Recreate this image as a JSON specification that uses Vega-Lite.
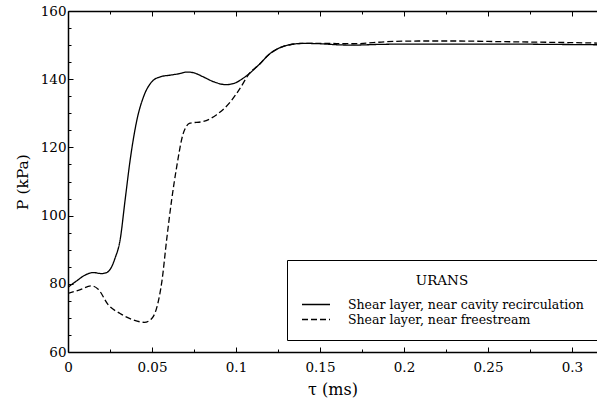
{
  "$schema": "https://vega.github.io/schema/vega-lite/v6.json",
  "autosize": "none",
  "width": 529,
  "height": 341,
  "padding": {"left": 68, "top": 11, "right": 0, "bottom": 53},
  "background": "white",
  "config": {
    "view": {"stroke": null},
    "font": "DejaVu Serif",
    "axis": {"labelFont": "DejaVu Serif", "titleFont": "DejaVu Serif", "labelColor": "black", "titleColor": "black", "domainColor": "black", "tickColor": "black", "grid": false, "titleFontWeight": "normal", "domainWidth": 1.5, "tickWidth": 1},
    "legend": {"labelFont": "DejaVu Serif", "titleFont": "DejaVu Serif"}
  },
  "data": {"values": [
    {"series": "Shear layer, near cavity recirculation", "t": 0.000, "p": 79.0},
    {"series": "Shear layer, near cavity recirculation", "t": 0.005, "p": 80.8},
    {"series": "Shear layer, near cavity recirculation", "t": 0.010, "p": 82.5},
    {"series": "Shear layer, near cavity recirculation", "t": 0.015, "p": 83.3},
    {"series": "Shear layer, near cavity recirculation", "t": 0.020, "p": 83.0},
    {"series": "Shear layer, near cavity recirculation", "t": 0.023, "p": 83.3},
    {"series": "Shear layer, near cavity recirculation", "t": 0.026, "p": 85.0},
    {"series": "Shear layer, near cavity recirculation", "t": 0.028, "p": 87.5},
    {"series": "Shear layer, near cavity recirculation", "t": 0.031, "p": 92.8},
    {"series": "Shear layer, near cavity recirculation", "t": 0.034, "p": 104.6},
    {"series": "Shear layer, near cavity recirculation", "t": 0.037, "p": 116.3},
    {"series": "Shear layer, near cavity recirculation", "t": 0.041, "p": 128.0},
    {"series": "Shear layer, near cavity recirculation", "t": 0.045, "p": 134.9},
    {"series": "Shear layer, near cavity recirculation", "t": 0.050, "p": 139.3},
    {"series": "Shear layer, near cavity recirculation", "t": 0.055, "p": 140.7},
    {"series": "Shear layer, near cavity recirculation", "t": 0.061, "p": 141.2},
    {"series": "Shear layer, near cavity recirculation", "t": 0.066, "p": 141.6},
    {"series": "Shear layer, near cavity recirculation", "t": 0.071, "p": 142.1},
    {"series": "Shear layer, near cavity recirculation", "t": 0.076, "p": 141.7},
    {"series": "Shear layer, near cavity recirculation", "t": 0.080, "p": 140.8},
    {"series": "Shear layer, near cavity recirculation", "t": 0.087, "p": 139.2},
    {"series": "Shear layer, near cavity recirculation", "t": 0.094, "p": 138.4},
    {"series": "Shear layer, near cavity recirculation", "t": 0.099, "p": 138.8},
    {"series": "Shear layer, near cavity recirculation", "t": 0.104, "p": 140.2},
    {"series": "Shear layer, near cavity recirculation", "t": 0.108, "p": 141.7},
    {"series": "Shear layer, near cavity recirculation", "t": 0.114, "p": 144.4},
    {"series": "Shear layer, near cavity recirculation", "t": 0.120, "p": 147.4},
    {"series": "Shear layer, near cavity recirculation", "t": 0.126, "p": 149.2},
    {"series": "Shear layer, near cavity recirculation", "t": 0.132, "p": 150.1},
    {"series": "Shear layer, near cavity recirculation", "t": 0.140, "p": 150.5},
    {"series": "Shear layer, near cavity recirculation", "t": 0.150, "p": 150.4},
    {"series": "Shear layer, near cavity recirculation", "t": 0.160, "p": 150.1},
    {"series": "Shear layer, near cavity recirculation", "t": 0.170, "p": 150.0},
    {"series": "Shear layer, near cavity recirculation", "t": 0.185, "p": 150.2},
    {"series": "Shear layer, near cavity recirculation", "t": 0.200, "p": 150.3},
    {"series": "Shear layer, near cavity recirculation", "t": 0.230, "p": 150.3},
    {"series": "Shear layer, near cavity recirculation", "t": 0.260, "p": 150.3},
    {"series": "Shear layer, near cavity recirculation", "t": 0.290, "p": 150.2},
    {"series": "Shear layer, near cavity recirculation", "t": 0.315, "p": 150.1},
    {"series": "Shear layer, near freestream", "t": 0.000, "p": 77.2},
    {"series": "Shear layer, near freestream", "t": 0.007, "p": 78.2},
    {"series": "Shear layer, near freestream", "t": 0.014, "p": 79.4},
    {"series": "Shear layer, near freestream", "t": 0.018, "p": 78.4},
    {"series": "Shear layer, near freestream", "t": 0.024, "p": 73.8},
    {"series": "Shear layer, near freestream", "t": 0.031, "p": 71.3},
    {"series": "Shear layer, near freestream", "t": 0.039, "p": 69.4},
    {"series": "Shear layer, near freestream", "t": 0.0455, "p": 68.7},
    {"series": "Shear layer, near freestream", "t": 0.050, "p": 69.9},
    {"series": "Shear layer, near freestream", "t": 0.053, "p": 73.3},
    {"series": "Shear layer, near freestream", "t": 0.056, "p": 81.1},
    {"series": "Shear layer, near freestream", "t": 0.0587, "p": 92.8},
    {"series": "Shear layer, near freestream", "t": 0.0617, "p": 104.6},
    {"series": "Shear layer, near freestream", "t": 0.0647, "p": 114.3},
    {"series": "Shear layer, near freestream", "t": 0.0686, "p": 124.1},
    {"series": "Shear layer, near freestream", "t": 0.0726, "p": 127.1},
    {"series": "Shear layer, near freestream", "t": 0.0806, "p": 127.6},
    {"series": "Shear layer, near freestream", "t": 0.0885, "p": 129.6},
    {"series": "Shear layer, near freestream", "t": 0.0964, "p": 133.2},
    {"series": "Shear layer, near freestream", "t": 0.1020, "p": 137.0},
    {"series": "Shear layer, near freestream", "t": 0.108, "p": 141.7},
    {"series": "Shear layer, near freestream", "t": 0.114, "p": 144.4},
    {"series": "Shear layer, near freestream", "t": 0.120, "p": 147.4},
    {"series": "Shear layer, near freestream", "t": 0.126, "p": 149.2},
    {"series": "Shear layer, near freestream", "t": 0.132, "p": 150.1},
    {"series": "Shear layer, near freestream", "t": 0.140, "p": 150.5},
    {"series": "Shear layer, near freestream", "t": 0.150, "p": 150.5},
    {"series": "Shear layer, near freestream", "t": 0.170, "p": 150.4},
    {"series": "Shear layer, near freestream", "t": 0.190, "p": 151.0},
    {"series": "Shear layer, near freestream", "t": 0.210, "p": 151.2},
    {"series": "Shear layer, near freestream", "t": 0.230, "p": 151.2},
    {"series": "Shear layer, near freestream", "t": 0.260, "p": 151.0},
    {"series": "Shear layer, near freestream", "t": 0.290, "p": 150.8},
    {"series": "Shear layer, near freestream", "t": 0.315, "p": 150.6}
  ]},
  "resolve": {"axis": {"x": "independent", "y": "independent"}},
  "layer": [
    {
      "mark": {"type": "line", "color": "black", "strokeWidth": 1.3, "interpolate": "monotone", "clip": true},
      "encoding": {
        "x": {"field": "t", "type": "quantitative",
          "scale": {"domain": [0, 0.3149], "nice": false, "zero": false},
          "axis": {"orient": "bottom", "title": "τ (ms)", "titleFontSize": 16, "titlePadding": 8,
            "values": [0, 0.025, 0.05, 0.075, 0.1, 0.125, 0.15, 0.175, 0.2, 0.225, 0.25, 0.275, 0.3],
            "labelExpr": "round(datum.value*40)%2==0 ? format(datum.value, '~g') : ''",
            "tickSize": {"condition": {"test": "round(datum.value*40)%2==0", "value": -5}, "value": -3},
            "labelFontSize": 13.5, "labelPadding": 13, "labelFlush": false}},
        "y": {"field": "p", "type": "quantitative",
          "scale": {"domain": [60, 160], "nice": false, "zero": false},
          "axis": {"orient": "left", "title": "P (kPa)", "titleFontSize": 15.5, "titlePadding": 10,
            "values": [60, 65, 70, 75, 80, 85, 90, 95, 100, 105, 110, 115, 120, 125, 130, 135, 140, 145, 150, 155, 160],
            "labelExpr": "datum.value%20==0 ? datum.label : ''",
            "tickSize": {"condition": {"test": "datum.value%20==0", "value": -5}, "value": -3},
            "labelFontSize": 13.5, "labelPadding": 7, "labelFlush": false}},
        "strokeDash": {"field": "series", "type": "nominal",
          "scale": {"domain": ["Shear layer, near cavity recirculation", "Shear layer, near freestream"], "range": [[1, 0], [6, 3]]},
          "legend": {"title": "URANS", "orient": "none", "legendX": 219, "legendY": 249,
            "titleAnchor": "middle", "titleFontWeight": "normal", "titleFontSize": 13.5, "titleColor": "black", "titlePadding": 9,
            "labelFontSize": 12.5, "labelColor": "black", "labelOffset": 31, "labelLimit": 400,
            "symbolType": "M-1,0L3,0", "symbolSize": 196, "symbolStrokeColor": "black", "symbolStrokeWidth": 1.3,
            "strokeColor": "black", "fillColor": "white", "padding": 14, "rowPadding": 0}}
      }
    },
    {
      "mark": {"type": "line", "opacity": 0, "clip": true},
      "encoding": {
        "x": {"field": "t", "type": "quantitative",
          "axis": {"orient": "top", "title": null, "labels": false,
            "values": [0, 0.025, 0.05, 0.075, 0.1, 0.125, 0.15, 0.175, 0.2, 0.225, 0.25, 0.275, 0.3],
            "tickSize": {"condition": {"test": "round(datum.value*40)%2==0", "value": -5}, "value": -3}}},
        "y": {"field": "p", "type": "quantitative", "axis": null},
        "detail": {"field": "series"}
      }
    }
  ]
}
